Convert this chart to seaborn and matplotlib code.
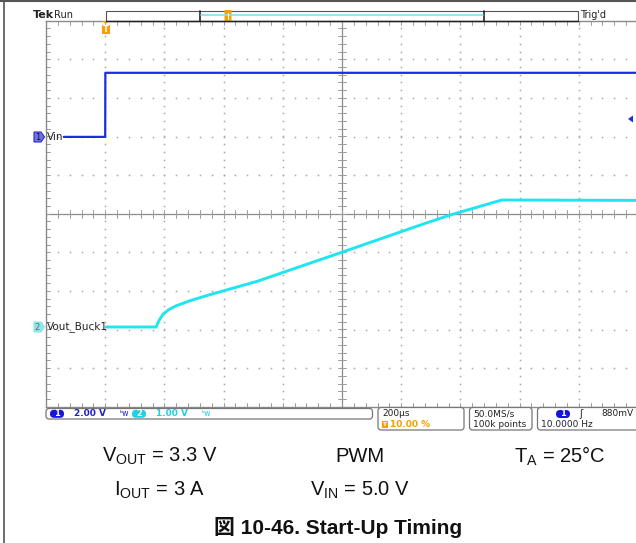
import numpy as np
import pandas as pd
import matplotlib
matplotlib.use("Agg")
import matplotlib.pyplot as plt
import seaborn as sns
from matplotlib.patches import FancyBboxPatch, Rectangle, Polygon

# ---------------- data (read from the scope capture) ----------------
vin_time_us = [-140, 0, 0.5, 1800]
vin_volts = [0.0, 0.0, 3.32, 3.32]
vout_time_us = [3, 172, 182, 195, 215, 240, 290, 355, 512, 801, 1064, 1165, 1340, 1800]
vout_volts = [0.0, 0.0, 0.17, 0.33, 0.45, 0.55, 0.69, 0.84, 1.18, 1.94, 2.64, 2.90, 3.29, 3.28]

ch1_label = "Vin"
ch2_label = "Vout_Buck1"
ch1_scale = "2.00 V"
ch2_scale = "1.00 V"
timebase = "200µs"
trig_pos = "10.00 %"
sample_rate = "50.0MS/s"
record_len = "100k points"
trig_level = "880mV"
trig_freq = "10.0000 Hz"

cond_row1 = ["V$_{\\mathregular{OUT}}$ = 3.3 V", "PWM", "T$_{\\mathregular{A}}$ = 25°C"]
cond_row2 = ["I$_{\\mathregular{OUT}}$ = 3 A", "V$_{\\mathregular{IN}}$ = 5.0 V"]
caption = "図 10-46. Start-Up Timing"

# ---------------- styling ----------------
sns.set_theme(style="white")
plt.rcParams["font.family"] = ["DejaVu Sans", "Noto Sans CJK JP"]
plt.rcParams["mathtext.fontset"] = "custom"
plt.rcParams["mathtext.rm"] = "Liberation Sans"

W, H = 636, 543
fig = plt.figure(figsize=(W / 100, H / 100), dpi=100)
fig.patch.set_facecolor("white")

# graticule axes (x in µs, y in divisions)
gx0, gx1, gy0, gy1 = 46, 638, 20.7, 406.7
ax = fig.add_axes([gx0 / W, 1 - gy1 / H, (gx1 - gx0) / W, (gy1 - gy0) / H])
ax.set_xlim(-200, 1800)
ax.set_ylim(-5, 5)
ax.set_xticks([])
ax.set_yticks([])
for s in ["left", "top", "bottom"]:
    ax.spines[s].set_color("#8a8a8a")
    ax.spines[s].set_linewidth(1.0)
ax.spines["right"].set_visible(False)

dot = "#a8a8a8"
# dotted grid lines
ys = np.arange(-5, 5.001, 0.2)
for k in range(1, 10):
    if k == 5:
        continue
    x = -200 + 200 * k
    ax.plot(np.full_like(ys, x), ys, ls="none", marker="s", ms=1.1, color=dot, mew=0)
xs = np.arange(-200, 1800.1, 40)
for k in range(-4, 5):
    if k == 0:
        continue
    ax.plot(xs, np.full_like(xs, k, dtype=float), ls="none", marker="s", ms=1.1, color=dot, mew=0)

# centre cross with ticks
tc = "#9c9c9c"
ax.axhline(0, color="#8a8a8a", lw=0.9)
ax.axvline(800, color="#8a8a8a", lw=0.9)
for x in xs:
    ax.plot([x, x], [-0.1, 0.1], color=tc, lw=0.7)
    ax.plot([x, x], [5, 4.9], color=tc, lw=0.7)
    ax.plot([x, x], [-5, -4.9], color=tc, lw=0.7)
for y in ys:
    ax.plot([787, 813], [y, y], color=tc, lw=0.7)
    ax.plot([-200, -187], [y, y], color=tc, lw=0.7)

# traces
ch1_off, ch2_off = 1.99, -2.935
df1 = pd.DataFrame({"t": vin_time_us, "y": np.array(vin_volts) / 2.0 + ch1_off})
df2 = pd.DataFrame({"t": vout_time_us, "y": np.array(vout_volts) / 1.0 + ch2_off})
sns.lineplot(data=df2, x="t", y="y", ax=ax, color="#1ee6f0", linewidth=2.1, sort=False)
sns.lineplot(data=df1, x="t", y="y", ax=ax, color="#1c2ee0", linewidth=1.6, sort=False)
ax.set_xlabel("")
ax.set_ylabel("")

# ---------------- overlay in pixel coordinates ----------------
ov = fig.add_axes([0, 0, 1, 1], zorder=5)
ov.set_xlim(0, W)
ov.set_ylim(H, 0)
ov.axis("off")
ov.patch.set_alpha(0)

# outer frame
ov.plot([4, 4], [0, H], color="#555555", lw=1.2)
ov.plot([0, W], [1, 1], color="#555555", lw=1.5)

# top bar
ov.text(33, 15.5, "Tek", fontsize=8, fontweight="bold", va="center", ha="left", color="#222")
ov.text(54, 15.5, "Run", fontsize=7, va="center", ha="left", color="#222")
ov.add_patch(Rectangle((105.5, 10.5), 578 - 105.5, 10, fill=False, ec="#555555", lw=0.8))
ov.plot([200, 200], [10.5, 20.5], color="#222", lw=1.2)
ov.plot([484, 484], [10.5, 20.5], color="#222", lw=1.2)
ov.plot([105.5, 578], [20.5, 20.5], color="#222", lw=1.0)
ov.plot([201, 483], [15.3, 15.3], color="#7fe3e8", lw=1.2)
ov.add_patch(FancyBboxPatch((225.5, 11), 5, 9, boxstyle="round,pad=0.3", fc="#f5a000", ec="#f5a000"))
ov.plot([228, 228], [12.5, 18.5], color="white", lw=0.8)
ov.text(580, 15.5, "Trig'd", fontsize=7, va="center", ha="left", color="#222")

# trigger position marker
ov.add_patch(Polygon([[102, 21], [109, 21], [105.5, 24]], closed=True, fc="#f5a000", ec="none"))
ov.add_patch(Rectangle((101.5, 24.5), 8, 9, fc="#f5a000", ec="none"))
ov.text(105.5, 29.2, "T", fontsize=6, fontweight="bold", color="white", ha="center", va="center")

# channel flags
ov.add_patch(Polygon([[34, 132], [41, 132], [44.5, 137], [41, 142], [34, 142]], closed=True,
                     fc="#6e72e6", ec="#2a2ad8", lw=0.8))
ov.text(37.5, 137.3, "1", fontsize=6, color="#111", ha="center", va="center")
ov.text(47, 137, ch1_label, fontsize=7.5, color="#222", ha="left", va="center")

ov.add_patch(Polygon([[34, 322], [41, 322], [44.5, 327], [41, 332], [34, 332]], closed=True,
                     fc="#8fe6ea", ec="#8fe6ea", lw=0.8))
ov.text(37.5, 327.3, "2", fontsize=6, color="#666", ha="center", va="center")
ov.text(47, 327, ch2_label, fontsize=7.5, color="#222", ha="left", va="center")

# trigger level arrow on right
ov.add_patch(Polygon([[628, 119], [633, 115.5], [633, 122.5]], closed=True, fc="#1c2ee0", ec="none"))

# status boxes
def box(x0, y0, x1, y1):
    ov.add_patch(FancyBboxPatch((x0, y0), x1 - x0, y1 - y0, boxstyle="round,pad=0,rounding_size=3",
                                fc="white", ec="#777777", lw=0.9))

box(46, 408.5, 372.5, 419)
box(378, 407.5, 464, 430)
box(469.5, 407.5, 532, 430)
box(537.5, 407.5, 645, 430)

ov.add_patch(FancyBboxPatch((50, 409.8), 14, 8, boxstyle="round,pad=0,rounding_size=4", fc="#1515d8", ec="none"))
ov.text(57, 414, "1", fontsize=6, fontweight="bold", color="white", ha="center", va="center")
ov.text(74, 414, ch1_scale, fontsize=6.5, fontweight="bold", color="#2020d0", ha="left", va="center")
ov.text(120, 414, "ᵇw", fontsize=5.5, color="#2020d0", ha="left", va="center")
ov.add_patch(FancyBboxPatch((132, 409.8), 14, 8, boxstyle="round,pad=0,rounding_size=4", fc="#22d0e0", ec="none"))
ov.text(139, 414, "2", fontsize=6, fontweight="bold", color="white", ha="center", va="center")
ov.text(156, 414, ch2_scale, fontsize=6.5, fontweight="bold", color="#22d0e0", ha="left", va="center")
ov.text(202, 414, "ᵇw", fontsize=5.5, color="#22d0e0", ha="left", va="center")

ov.text(382, 414, timebase, fontsize=6.5, color="#222", ha="left", va="center")
ov.add_patch(Rectangle((381.5, 420.5), 6, 7, fc="#f5a000", ec="none"))
ov.text(384.5, 424.2, "T", fontsize=4.5, fontweight="bold", color="white", ha="center", va="center")
ov.text(390, 424.2, trig_pos, fontsize=6.5, fontweight="bold", color="#f5a000", ha="left", va="center")

ov.text(473, 414, sample_rate, fontsize=6.5, color="#222", ha="left", va="center")
ov.text(473, 424.2, record_len, fontsize=6.5, color="#222", ha="left", va="center")

ov.add_patch(FancyBboxPatch((556, 410), 14, 8, boxstyle="round,pad=0,rounding_size=4", fc="#1515d8", ec="none"))
ov.text(563, 414, "1", fontsize=6, fontweight="bold", color="white", ha="center", va="center")
ov.text(579, 414, "ʃ", fontsize=7, color="#222", ha="left", va="center")
ov.text(634, 414, trig_level, fontsize=6.5, color="#222", ha="right", va="center")
ov.text(541, 424.2, trig_freq, fontsize=6.5, color="#222", ha="left", va="center")

# conditions and caption
cf = ["Liberation Sans", "DejaVu Sans"]
ov.text(160, 456, cond_row1[0], fontsize=14.5, family=cf, ha="center", va="center", color="#111")
ov.text(360, 456, cond_row1[1], fontsize=14.5, family=cf, ha="center", va="center", color="#111")
ov.text(560, 456, cond_row1[2], fontsize=14.5, family=cf, ha="center", va="center", color="#111")
ov.text(160, 490, cond_row2[0], fontsize=14.5, family=cf, ha="center", va="center", color="#111")
ov.text(360, 490, cond_row2[1], fontsize=14.5, family=cf, ha="center", va="center", color="#111")
ov.text(338, 527, caption, fontsize=15, fontweight="bold", family=["Liberation Sans", "Noto Sans CJK JP"],
        ha="center", va="center", color="#111")

fig.savefig("out.png", dpi=100)
